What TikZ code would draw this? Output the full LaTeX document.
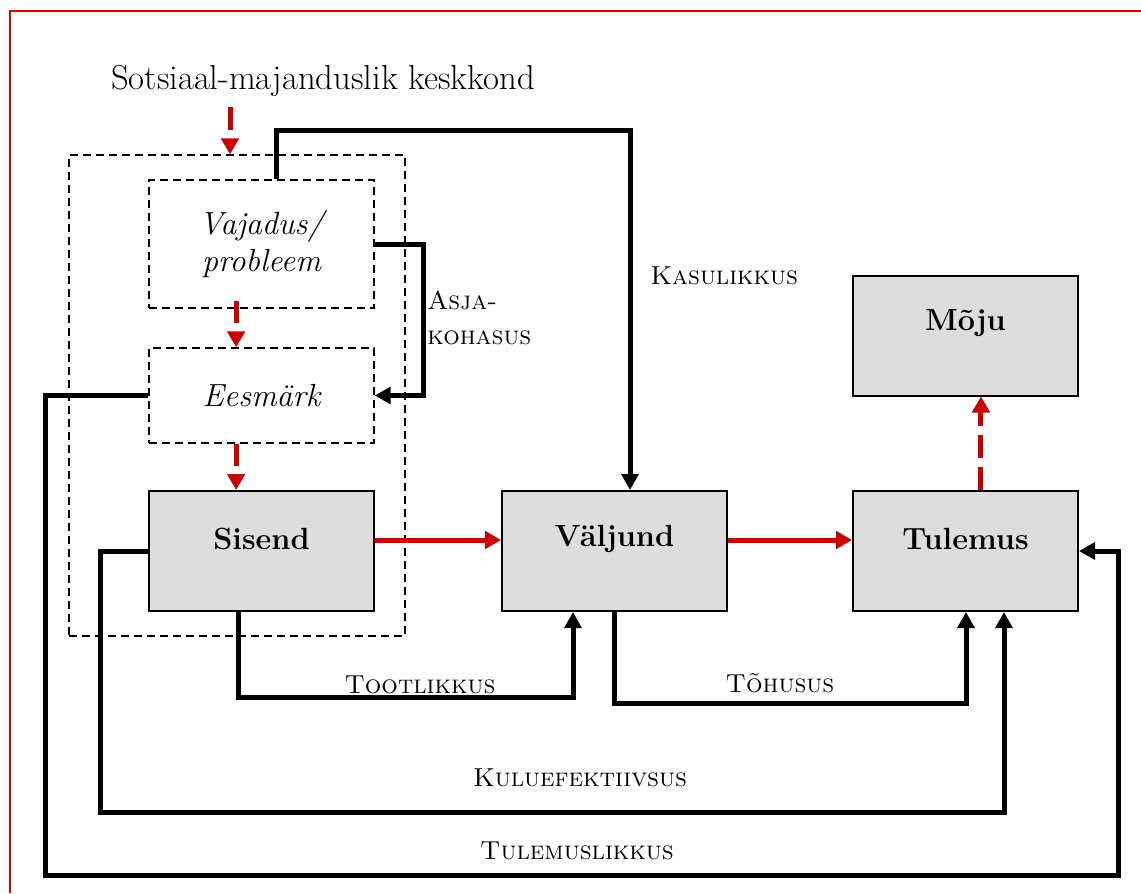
\documentclass[tikz,border=0pt]{standalone}
\usetikzlibrary{arrows.meta,calc}
\definecolor{redc}{RGB}{204,0,0}
\definecolor{framec}{RGB}{222,0,0}
\definecolor{boxgray}{RGB}{221,221,221}
\begin{document}
\begin{tikzpicture}[x=0.75pt,y=-0.75pt,
  graybox/.style={draw=black,line width=1.5pt,fill=boxgray,minimum width=168.75pt,minimum height=90pt,inner sep=0pt},
  dbox/.style={draw=black,line width=1pt,dash pattern=on 6pt off 3.75pt,inner sep=0pt,minimum width=168.75pt},
  boxtext/.style={font=\fontsize{23}{27}\selectfont\bfseries},
  itext/.style={font=\fontsize{24}{27.75}\selectfont\itshape,align=center},
  conn/.style={line width=3.75pt,-{Triangle[length=12pt,width=12.5pt]}},
  redsolid/.style={draw=redc,line width=3.75pt,-{Triangle[length=12pt,width=13pt]}},
  reddash/.style={draw=redc,line width=3.75pt,dash pattern=on 17pt off 7pt,-{Triangle[length=12pt,width=13pt]}},
  lab/.style={font=\fontsize{19.5}{22}\selectfont\scshape,inner sep=0pt}]
\useasboundingbox (0,0) rectangle (1141,893);
% page frame
\draw[framec,line width=1.8pt] (10,893) -- (10,11) -- (1141,11);
% title
\node[font=\fontsize{26}{30}\selectfont,inner sep=0pt] (title) at (323,81) {Sotsiaal-majanduslik keskkond};
% outer dashed context box
\node[dbox,minimum width=252pt,minimum height=360.75pt] (ctx) at (237,395.5) {};
% dashed inner boxes
\node[dbox,minimum height=96pt,itext] (vaj) at (261.5,244) {Vajadus/\\probleem};
\node[dbox,minimum height=71.25pt,itext] (ees) at (261.5,395.5) {Eesmärk};
% gray boxes
\node[graybox,label={[boxtext,yshift=9pt]center:Sisend}] (sis) at (261.5,551) {};
\node[graybox,label={[boxtext,yshift=9pt]center:Väljund}] (val) at (614.5,551) {};
\node[graybox,label={[boxtext,yshift=9pt]center:Tulemus}] (tul) at (965.5,551) {};
\node[graybox,label={[boxtext,yshift=9pt]center:Mõju}] (moju) at (965.5,335.5) {};
% helper coordinates
\coordinate (k1) at (276,130);
\coordinate (k2) at (630,130);
\coordinate (a1) at (423,244);
\coordinate (t1) at (238,697);
\coordinate (t2) at (573,697);
\coordinate (h2) at (966,703);
\coordinate (ku1) at (100,812);
\coordinate (ku2) at (1004,812);
\coordinate (tu1) at (45,875);
\coordinate (tu2) at (1118,875);
\coordinate (r0) at (230,107);
% red arrows
\draw[reddash] (r0) -- (r0 |- ctx.north);
\draw[reddash] ([xshift=-19pt,yshift=6pt]vaj.south) -- ([xshift=-19pt]ees.north);
\draw[reddash] ([xshift=-19pt]ees.south) -- ([xshift=-19pt]sis.north);
\draw[redsolid] ([yshift=8.25pt]sis.east) -- ([yshift=8.25pt]val.west);
\draw[redsolid] ([yshift=8.25pt]val.east) -- ([yshift=8.25pt]tul.west);
\draw[reddash] ([xshift=11.6pt]tul.north) -- ([xshift=11.6pt]moju.south);
% black connectors
\draw[conn] (k1 |- vaj.north) -- (k1) -- (k2) -- (k2 |- val.north);
\draw[conn] (vaj.east) -- (a1) |- (ees.east);
\draw[conn] (t1 |- sis.south) -- (t1) -- (t2) -- (t2 |- val.south);
\draw[conn] (val.south) |- (h2) -- (h2 |- tul.south);
\draw[conn] (sis.west) -- (sis.west -| ku1) -- (ku1) -- (ku2) -- (ku2 |- tul.south);
\draw[conn] (ees.west) -- (ees.west -| tu1) -- (tu1) -- (tu2) -- (tu2 |- tul.east) -- (tul.east);
% labels
\node[lab,anchor=west] (lkas) at (650,276) {Kasulikkus};
\node[lab,anchor=west,align=left] (lasj) at (427,318) {Asja-\\[4pt]kohasus};
\node[lab] (ltoo) at (420,685) {Tootlikkus};
\node[lab] (ltoh) at (780,683) {Tõhusus};
\node[lab] (lkul) at (580,778) {Kuluefektiivsus};
\node[lab] (ltul) at (577,851) {Tulemuslikkus};
\end{tikzpicture}
\end{document}
